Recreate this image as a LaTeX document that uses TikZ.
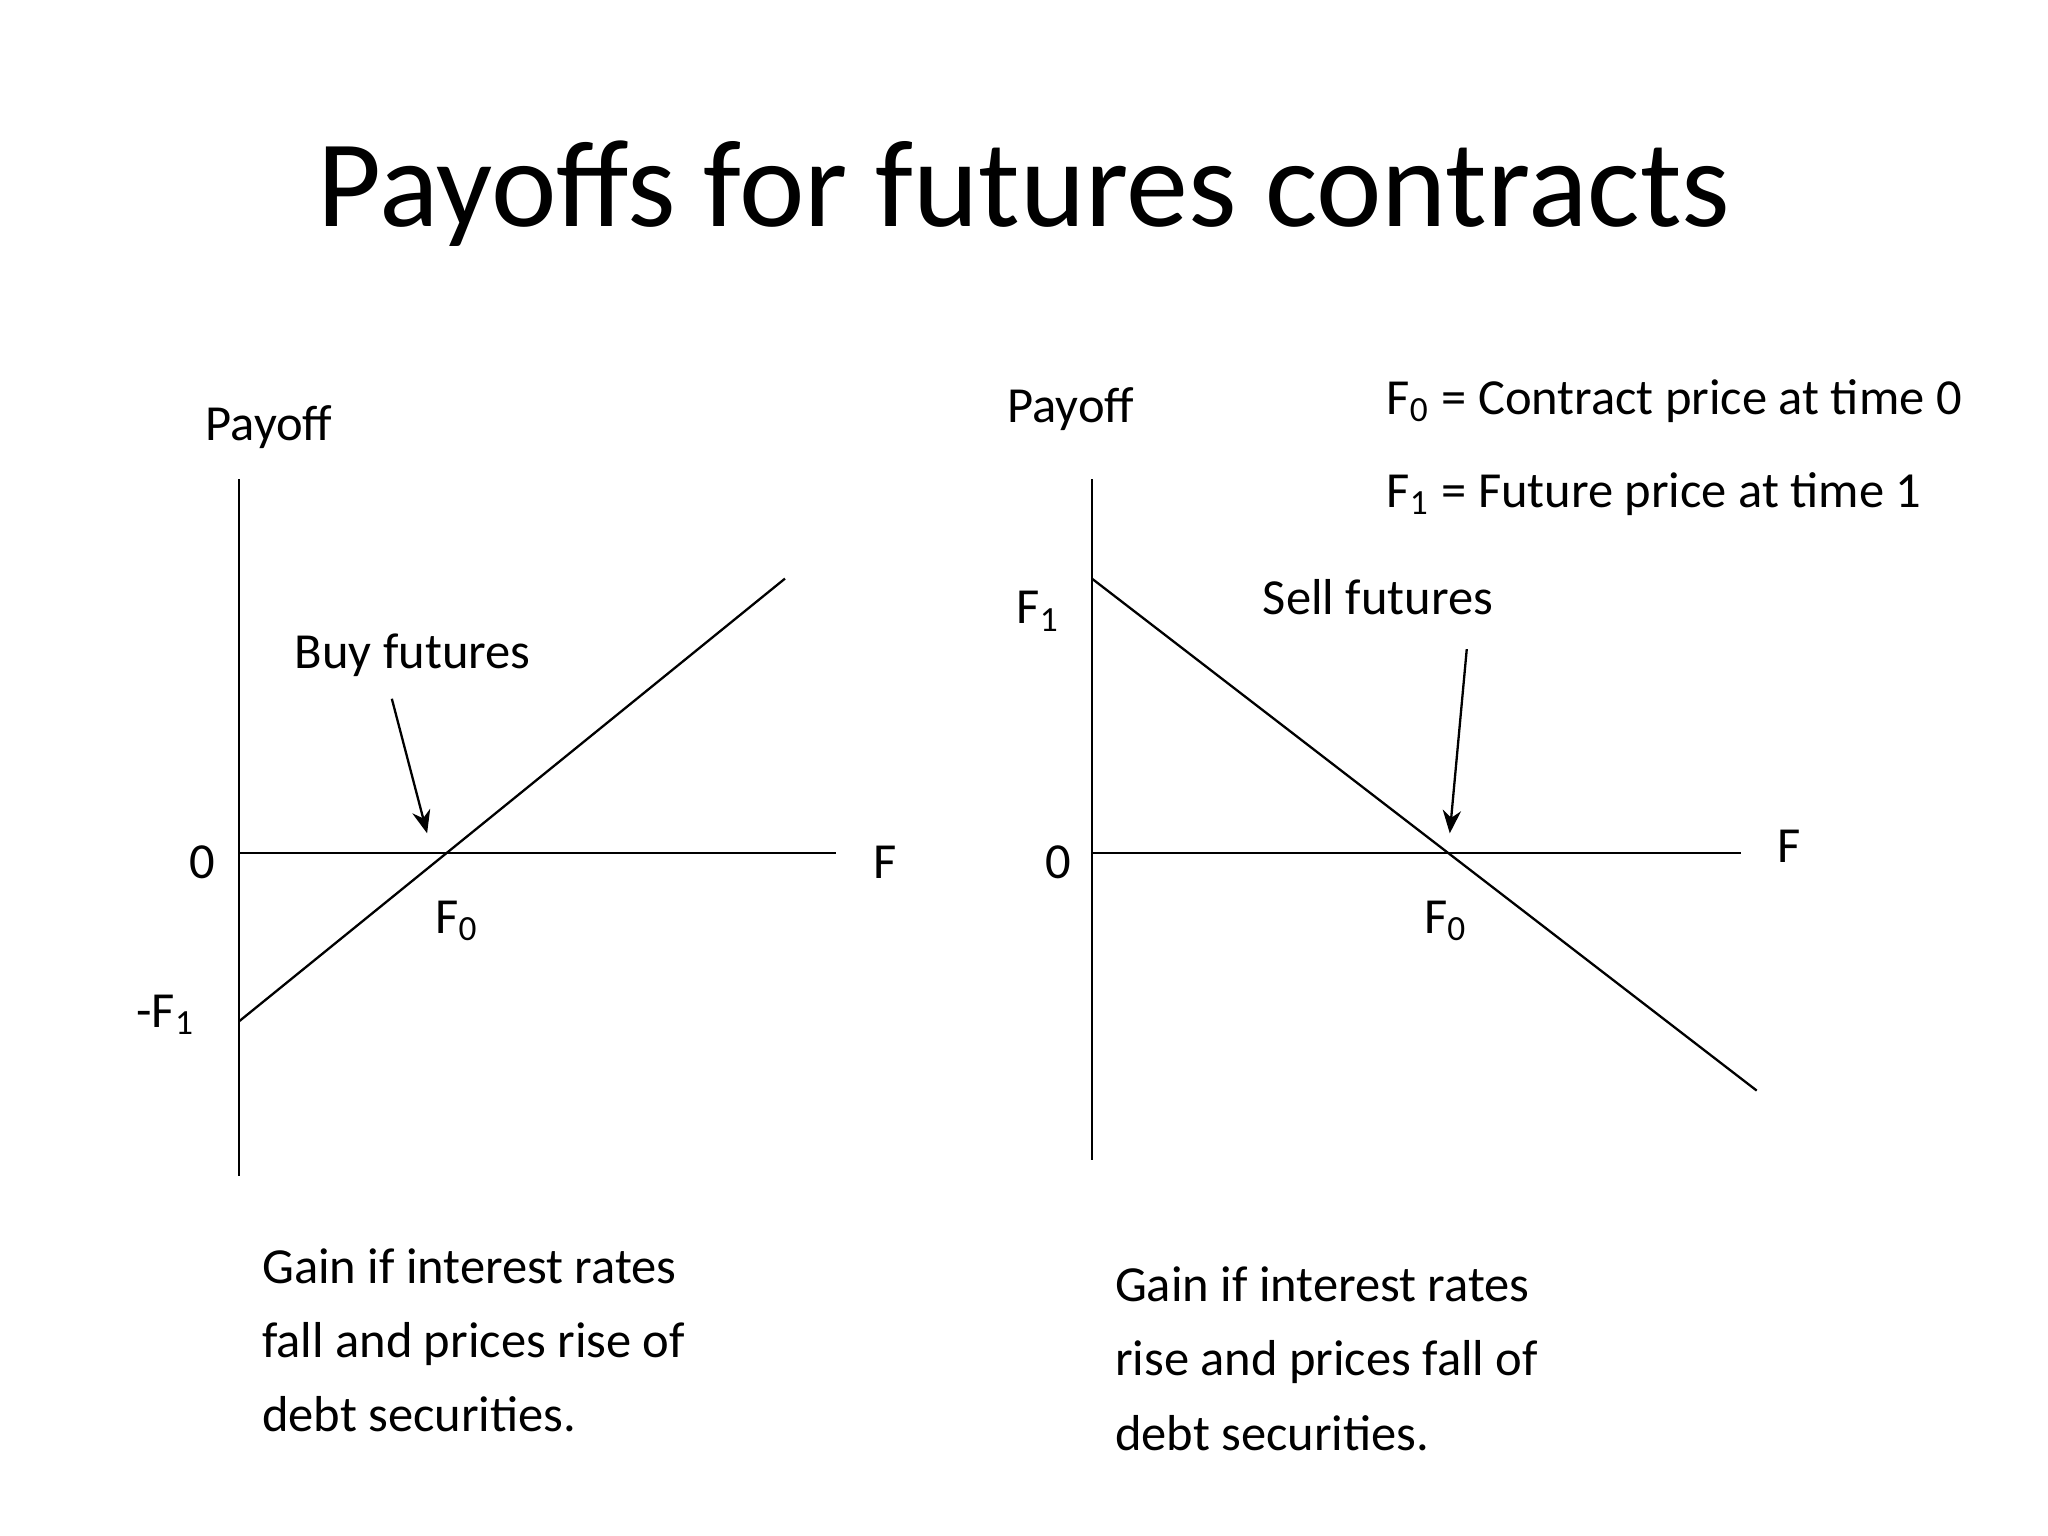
\documentclass[tikz,border=0pt]{standalone}
\usepackage{fontspec}
\setmainfont{Carlito}
\usetikzlibrary{arrows.meta}
\begin{document}
\begin{tikzpicture}[x=0.01cm,y=-0.01cm,
  lbl/.style={font=\fontsize{11}{13}\selectfont,inner sep=0pt},
  para/.style={font=\fontsize{11}{16.2}\selectfont,align=left,anchor=north west,inner sep=0pt},
  ax/.style={line width=0.5pt},
  arr/.style={line width=0.5pt,-{Stealth[length=5pt,width=4pt]}}]
\useasboundingbox (0,0) rectangle (1568,1176);
\node[font=\fontsize{27}{30}\selectfont,inner sep=0pt] (title) at (784,148) {Payoffs for futures contracts};
% left graph
\coordinate (lyt) at (183,367); \coordinate (lyb) at (183,900);
\coordinate (lxl) at (183,653); \coordinate (lxr) at (640,653);
\coordinate (ll1) at (183,782); \coordinate (ll2) at (601,443);
\draw[ax] (lyt) -- (lyb); \draw[ax] (lxl) -- (lxr); \draw[ax] (ll1) -- (ll2);
\node[lbl] (lpay) at (206,327) {Payoff};
\node[lbl] (lbuy) at (316,502) {Buy futures};
\coordinate (la1) at (300,535); \coordinate (la2) at (327,638);
\draw[arr] (la1) -- (la2);
\node[lbl] (l0) at (155,660) {0};
\node[lbl] (lF) at (678,660) {F};
\node[lbl] (lF0) at (350,705) {F\textsubscript{0}};
\node[lbl] (lmF1) at (127,777) {-F\textsubscript{1}};
\node[para] (ltxt) at (200,955) {Gain if interest rates\\fall and prices rise of\\debt securities.};
% right graph
\coordinate (ryt) at (836,367); \coordinate (ryb) at (836,888);
\coordinate (rxl) at (836,653); \coordinate (rxr) at (1333,653);
\coordinate (rl1) at (836,443); \coordinate (rl2) at (1345,835);
\draw[ax] (ryt) -- (ryb); \draw[ax] (rxl) -- (rxr); \draw[ax] (rl1) -- (rl2);
\node[lbl] (rpay) at (820,313) {Payoff};
\node[lbl] (rsell) at (1055,457) {Sell futures};
\coordinate (ra1) at (1123,497); \coordinate (ra2) at (1110,638);
\draw[arr] (ra1) -- (ra2);
\node[lbl] (r0) at (810,660) {0};
\node[lbl] (rF) at (1370,648) {F};
\node[lbl] (rF0) at (1107,705) {F\textsubscript{0}};
\node[lbl] (rF1) at (795,468) {F\textsubscript{1}};
\node[lbl,anchor=west] (leg1) at (1061,307) {F\textsubscript{0} = Contract price at time 0};
\node[lbl,anchor=west] (leg2) at (1061,378) {F\textsubscript{1} = Future price at time 1};
\node[para] (rtxt) at (853,969) {Gain if interest rates\\rise and prices fall of\\debt securities.};
\end{tikzpicture}
\end{document}
